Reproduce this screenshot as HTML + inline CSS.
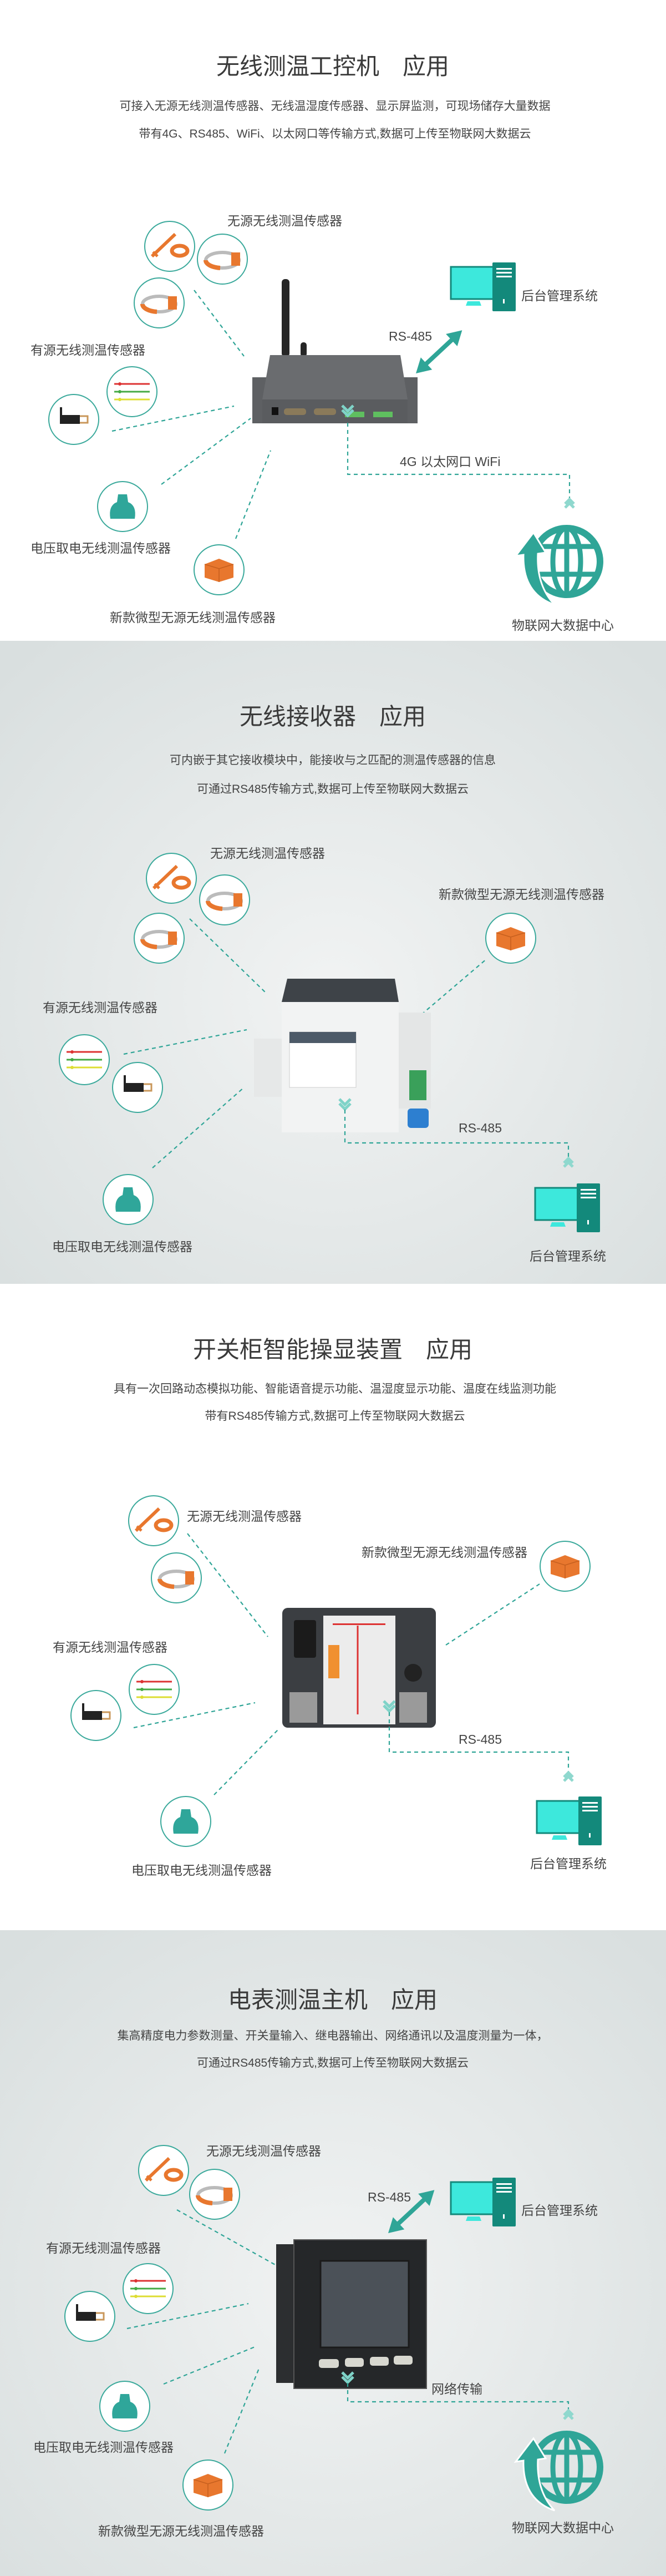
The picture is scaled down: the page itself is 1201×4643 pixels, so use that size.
<!DOCTYPE html>
<html><head><meta charset="utf-8"><style>
html,body{margin:0;padding:0;background:#fff}
svg{display:block}
text{font-family:"Liberation Sans","Noto Sans CJK SC",sans-serif;fill:#454545}
.t{font-size:42px;fill:#3a3a3a;text-anchor:middle}
.s{font-size:21px;fill:#444;text-anchor:middle}
.l{font-size:23px;fill:#444}
.d{fill:none;stroke:#2fa597;stroke-width:2.2;stroke-dasharray:7 6}
.c{fill:#fff;stroke:#3aa99b;stroke-width:2}
</style></head><body>
<svg width="1201" height="4643" viewBox="0 0 1201 4643" xmlns="http://www.w3.org/2000/svg">
<defs>
<radialGradient id="bg" cx="50%" cy="55%" r="70%"><stop offset="0" stop-color="#f1f3f3"/><stop offset="1" stop-color="#d9dfdf"/></radialGradient>
<g id="tie"><circle r="45" class="c"/><path d="M-32 18 L10 -22" stroke="#e8772e" stroke-width="6"/><path d="M-30 10 l8 8" stroke="#e8772e" stroke-width="5"/><ellipse cx="18" cy="8" rx="14" ry="9" fill="none" stroke="#e8772e" stroke-width="7"/></g>
<g id="ring"><circle r="45" class="c"/><ellipse cx="0" cy="2" rx="30" ry="14" fill="none" stroke="#bbb" stroke-width="6"/><path d="M-30 2 a30 14 0 0 0 26 14" stroke="#e8772e" stroke-width="8" fill="none"/><rect x="16" y="-12" width="16" height="24" fill="#e8772e"/></g>
<g id="wires"><circle r="45" class="c"/><path d="M-32 -14 H32" stroke="#d33" stroke-width="3"/><path d="M-32 0 H32" stroke="#4a4" stroke-width="3"/><path d="M-32 14 H32" stroke="#dd3" stroke-width="3"/><circle cx="-22" cy="-14" r="3" fill="#d33"/><circle cx="-22" cy="0" r="3" fill="#4a4"/><circle cx="-22" cy="14" r="3" fill="#dd3"/></g>
<g id="act"><circle r="45" class="c"/><rect x="-25" y="-8" width="36" height="16" fill="#222"/><rect x="-25" y="-22" width="4" height="18" fill="#222"/><path d="M11 -6 h14 v12 h-14" fill="none" stroke="#c9975a" stroke-width="3"/></g>
<g id="knob"><circle r="45" class="c"/><path d="M-22 22 Q-26 -2 -10 -8 L-8 -22 L8 -22 L10 -8 Q26 -2 22 22 Z" fill="#2fa69a"/></g>
<g id="box"><circle r="45" class="c"/><path d="M-26 -10 L0 -20 L26 -10 L26 14 L0 22 L-26 14 Z" fill="#e8772e"/><path d="M-26 -10 L0 -2 L26 -10 M0 -2 V22" stroke="#c55f1e" stroke-width="1.5" fill="none"/></g>
<g id="pc"><rect x="0" y="8" width="88" height="58" fill="#3de8dc" stroke="#13897b" stroke-width="3"/><rect x="75" y="0" width="42" height="88" fill="#13897b" rx="2"/><rect x="82" y="10" width="28" height="3" fill="#fff"/><rect x="82" y="17" width="28" height="3" fill="#fff"/><rect x="82" y="24" width="28" height="3" fill="#fff"/><rect x="94" y="66" width="3" height="8" fill="#fff"/><path d="M30 70 h22 l3 8 h-28 z" fill="#3de8dc"/></g>
<g id="globe"><circle cx="100" cy="72" r="60" fill="none" stroke="#2fa597" stroke-width="12"/><ellipse cx="100" cy="72" rx="25" ry="60" fill="none" stroke="#2fa597" stroke-width="9"/><path d="M45 45 H155 M42 95 H158 M100 12 V132" stroke="#2fa597" stroke-width="9"/><path d="M78 150 Q20 130 22 60 L8 62 L40 20 L62 56 L48 58 Q45 115 78 150 Z" fill="#2fa597" stroke="#fff" stroke-width="3"/></g>
<g id="chev"><path d="M-10 -14 L0 -4 L10 -14 M-10 -6 L0 4 L10 -6" stroke="#7fd3c8" stroke-width="5" fill="none"/></g>
<g id="chevu"><path d="M-8 8 L0 0 L8 8 M-8 15 L0 7 L8 15" stroke="#8fd8ce" stroke-width="5" fill="none"/></g>
<g id="bi"><path d="M18 0 H96" stroke="#2fa597" stroke-width="8"/><path d="M0 0 L26 -15 L26 15 Z M114 0 L88 -15 L88 15 Z" fill="#2fa597"/></g>
</defs>

<!-- SECTION 1 -->
<rect x="0" y="0" width="1201" height="1155" fill="#fff"/>
<text class="t" x="600" y="134">无线测温工控机　应用</text>
<text class="s" x="604" y="198">可接入无源无线测温传感器、无线温湿度传感器、显示屏监测，可现场储存大量数据</text>
<text class="s" x="604" y="248">带有4G、RS485、WiFi、以太网口等传输方式,数据可上传至物联网大数据云</text>
<text class="l" x="410" y="406">无源无线测温传感器</text>
<text class="l" x="55" y="639">有源无线测温传感器</text>
<text class="l" x="55" y="996">电压取电无线测温传感器</text>
<text class="l" x="198" y="1121">新款微型无源无线测温传感器</text>
<text class="l" x="940" y="541">后台管理系统</text>
<text class="l" x="923" y="1135">物联网大数据中心</text>
<text class="l" x="701" y="614">RS-485</text>
<text class="l" x="721" y="840">4G  以太网口  WiFi</text>
<use href="#tie" x="306" y="444"/><use href="#ring" x="401" y="467"/><use href="#ring" x="287" y="546"/>
<use href="#wires" x="238" y="706"/><use href="#act" x="133" y="756"/><use href="#knob" x="221" y="913"/><use href="#box" x="395" y="1027"/>
<path class="d" d="M350 523 L440 642 M202 777 L422 732 M291 873 L452 754 M425 971 L488 812"/>
<rect x="508" y="503" width="14" height="140" rx="6" fill="#262626"/>
<rect x="542" y="617" width="11" height="26" rx="5" fill="#262626"/>
<path d="M455 680 L753 680 L753 763 L455 763 Z" fill="#5e6063"/>
<path d="M487 640 L722 640 L735 720 L473 720 Z" fill="#6a6c6f"/>
<rect x="473" y="720" width="262" height="43" fill="#5a5c5f"/>
<rect x="490" y="734" width="12" height="14" fill="#111"/>
<rect x="512" y="736" width="40" height="12" rx="5" fill="#8a7a5a"/><rect x="566" y="736" width="40" height="12" rx="5" fill="#8a7a5a"/>
<rect x="622" y="742" width="35" height="10" fill="#5fbf5f"/><rect x="673" y="742" width="35" height="10" fill="#5fbf5f"/>
<use href="#chev" x="627" y="745"/>
<use href="#pc" x="813" y="473"/>
<use href="#bi" transform="translate(750,673) rotate(-43)"/>
<path class="d" d="M627 762 V855 H1027 V905"/>
<use href="#chevu" x="1027" y="900"/>
<use href="#globe" x="922" y="940"/>

<!-- SECTION 2 -->
<rect x="0" y="1155" width="1201" height="1159" fill="url(#bg)"/>
<text class="t" x="600" y="1306">无线接收器　应用</text>
<text class="s" x="600" y="1377">可内嵌于其它接收模块中，能接收与之匹配的测温传感器的信息</text>
<text class="s" x="600" y="1429">可通过RS485传输方式,数据可上传至物联网大数据云</text>
<text class="l" x="379" y="1546">无源无线测温传感器</text>
<text class="l" x="791" y="1620">新款微型无源无线测温传感器</text>
<text class="l" x="77" y="1824">有源无线测温传感器</text>
<text class="l" x="94" y="2255">电压取电无线测温传感器</text>
<text class="l" x="955" y="2272">后台管理系统</text>
<text class="l" x="827" y="2041">RS-485</text>
<use href="#tie" x="309" y="1583"/><use href="#ring" x="405" y="1622"/><use href="#ring" x="287" y="1691"/>
<use href="#box" x="921" y="1691"/><use href="#wires" x="152" y="1910"/><use href="#act" x="248" y="1960"/><use href="#knob" x="231" y="2162"/>
<path class="d" d="M342 1656 L481 1791 M223 1900 L445 1856 M275 2105 L440 1960 M750 1837 L878 1728"/>
<rect x="458" y="1872" width="55" height="105" fill="#e6e8e8"/>
<rect x="714" y="1825" width="63" height="173" fill="#e4e6e6"/>
<rect x="508" y="1787" width="211" height="254" fill="#f2f3f3"/>
<path d="M518 1764 H712 L719 1806 H508 Z" fill="#3e4348"/>
<rect x="522" y="1860" width="120" height="100" fill="#fff" stroke="#ccc"/>
<rect x="522" y="1860" width="120" height="20" fill="#4d5a68"/>
<rect x="738" y="1929" width="31" height="54" fill="#3aa05a"/>
<rect x="735" y="1998" width="38" height="35" rx="6" fill="#2d7fd0"/>
<use href="#chev" x="622" y="1995"/>
<path class="d" d="M622 2000 V2060 H1025 V2090"/>
<use href="#chevu" x="1025" y="2088"/>
<use href="#pc" x="965" y="2133"/>

<!-- SECTION 3 -->
<rect x="0" y="2314" width="1201" height="1165" fill="#fff"/>
<text class="t" x="600" y="2447">开关柜智能操显装置　应用</text>
<text class="s" x="604" y="2510">具有一次回路动态模拟功能、智能语音提示功能、温湿度显示功能、温度在线监测功能</text>
<text class="s" x="604" y="2559">带有RS485传输方式,数据可上传至物联网大数据云</text>
<text class="l" x="337" y="2741">无源无线测温传感器</text>
<text class="l" x="652" y="2806">新款微型无源无线测温传感器</text>
<text class="l" x="95" y="2977">有源无线测温传感器</text>
<text class="l" x="237" y="3379">电压取电无线测温传感器</text>
<text class="l" x="956" y="3367">后台管理系统</text>
<text class="l" x="827" y="3143">RS-485</text>
<use href="#tie" x="277" y="2741"/><use href="#ring" x="318" y="2844"/><use href="#wires" x="278" y="3045"/>
<use href="#act" x="173" y="3092"/><use href="#knob" x="335" y="3283"/><use href="#box" x="1019" y="2823"/>
<path class="d" d="M338 2764 L483 2950 M241 3114 L460 3069 M386 3235 L504 3115 M804 2965 L973 2855"/>
<rect x="509" y="2898" width="277" height="216" rx="10" fill="#3b3e42"/>
<rect x="583" y="2912" width="130" height="196" fill="#ececec"/>
<rect x="600" y="2926" width="95" height="3" fill="#d33"/>
<path d="M645 2930 V3090" stroke="#d33" stroke-width="3"/>
<rect x="530" y="2920" width="40" height="68" fill="#1b1b1b" rx="4"/>
<rect x="592" y="2965" width="20" height="60" fill="#f09030"/>
<rect x="522" y="3050" width="50" height="55" fill="#9a9a9a"/><rect x="720" y="3050" width="50" height="55" fill="#9a9a9a"/>
<circle cx="745" cy="3015" r="16" fill="#222"/>
<use href="#chev" x="702" y="3080"/>
<path class="d" d="M702 3086 V3158 H1025 V3195"/>
<use href="#chevu" x="1025" y="3195"/>
<use href="#pc" x="968" y="3238"/>

<!-- SECTION 4 -->
<rect x="0" y="3479" width="1201" height="1164" fill="url(#bg)"/>
<text class="t" x="600" y="3619">电表测温主机　应用</text>
<text class="s" x="600" y="3676">集高精度电力参数测量、开关量输入、继电器输出、网络通讯以及温度测量为一体，</text>
<text class="s" x="600" y="3725">可通过RS485传输方式,数据可上传至物联网大数据云</text>
<text class="l" x="372" y="3885">无源无线测温传感器</text>
<text class="l" x="83" y="4060">有源无线测温传感器</text>
<text class="l" x="60" y="4419">电压取电无线测温传感器</text>
<text class="l" x="177" y="4570">新款微型无源无线测温传感器</text>
<text class="l" x="940" y="3992">后台管理系统</text>
<text class="l" x="923" y="4564">物联网大数据中心</text>
<text class="l" x="663" y="3968">RS-485</text>
<text class="l" x="778" y="4314">网络传输</text>
<use href="#tie" x="295" y="3912"/><use href="#ring" x="387" y="3955"/><use href="#wires" x="267" y="4125"/>
<use href="#act" x="162" y="4175"/><use href="#knob" x="225" y="4337"/><use href="#box" x="375" y="4479"/>
<path class="d" d="M319 3983 L498 4083 M229 4197 L448 4152 M295 4297 L462 4229 M405 4422 L467 4269"/>
<rect x="498" y="4045" width="40" height="250" fill="#2c2e30"/>
<rect x="530" y="4037" width="239" height="268" fill="#252729" stroke="#555" stroke-width="2"/>
<rect x="578" y="4075" width="159" height="156" fill="#4b5158" stroke="#1a1a1a" stroke-width="3"/>
<rect x="575" y="4252" width="36" height="16" rx="5" fill="#d8d8d0"/><rect x="622" y="4250" width="34" height="16" rx="5" fill="#d8d8d0"/><rect x="667" y="4248" width="34" height="16" rx="5" fill="#d8d8d0"/><rect x="710" y="4246" width="34" height="16" rx="5" fill="#d8d8d0"/>
<use href="#chev" x="627" y="4290"/>
<path class="d" d="M627 4295 V4329 H1025 V4350"/>
<use href="#chevu" x="1025" y="4345"/>
<use href="#pc" x="813" y="3925"/>
<use href="#bi" transform="translate(700,4025) rotate(-43)"/>
<use href="#globe" x="922" y="4375"/>
</svg>
</body></html>
